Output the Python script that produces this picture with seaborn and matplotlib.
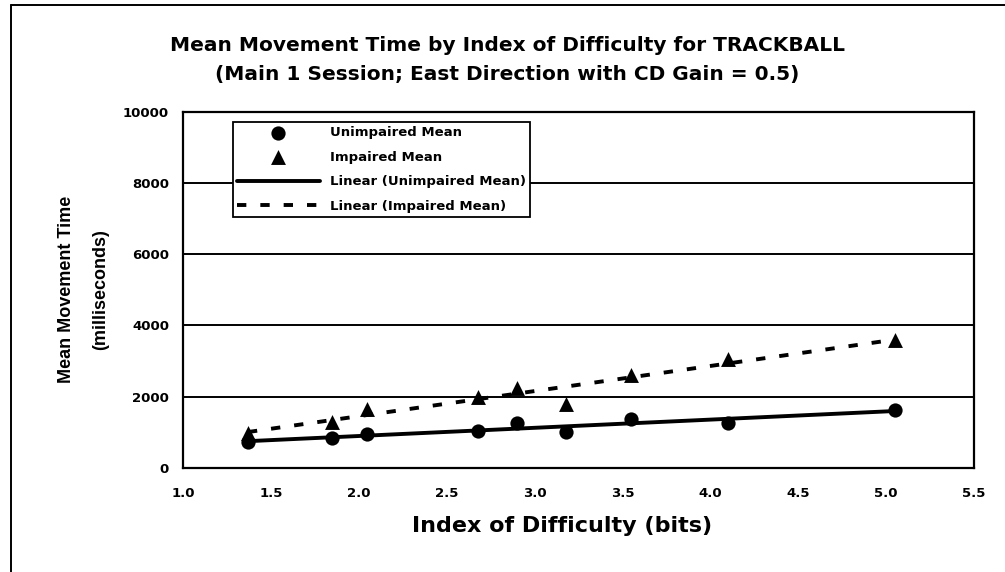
import matplotlib
matplotlib.use("Agg")
import matplotlib.pyplot as plt
from matplotlib.lines import Line2D
import seaborn as sns
import pandas as pd

# Index of difficulty (bits) for each target condition
index_of_difficulty = [1.37, 1.85, 2.05, 2.68, 2.90, 3.18, 3.55, 4.10, 5.05]
# Mean movement times (ms)
unimpaired_mean = [730, 830, 940, 1035, 1250, 1020, 1360, 1270, 1625]
impaired_mean = [975, 1300, 1645, 1985, 2240, 1800, 2610, 3050, 3600]

x_ticks = [1.0, 1.5, 2.0, 2.5, 3.0, 3.5, 4.0, 4.5, 5.0, 5.5]
y_ticks = [0, 2000, 4000, 6000, 8000, 10000]

df = pd.DataFrame({
    "id": index_of_difficulty,
    "unimpaired": unimpaired_mean,
    "impaired": impaired_mean,
})

sns.set_theme(style="white")
plt.rcParams["font.family"] = ["DejaVu Sans"]
plt.rcParams["font.weight"] = "bold"
for key in ["text.color", "axes.labelcolor", "xtick.color", "ytick.color",
            "axes.edgecolor"]:
    plt.rcParams[key] = "black"

NARROW = ["Liberation Sans Narrow", "DejaVu Sans Condensed", "Liberation Sans"]

fig = plt.figure(figsize=(10.05, 5.72), dpi=100)
ax = fig.add_axes([0.182, 0.182, 0.787, 0.623])

# Horizontal gridlines behind the data
for yv in y_ticks[1:]:
    ax.axhline(yv, color="black", lw=1.4, zorder=0)

sns.scatterplot(data=df, x="id", y="unimpaired", ax=ax, marker="o", s=105,
                color="black", edgecolor="black", linewidth=0,
                label="Unimpaired Mean", zorder=3)
sns.scatterplot(data=df, x="id", y="impaired", ax=ax, marker="^", s=115,
                color="black", edgecolor="black", linewidth=0,
                label="Impaired Mean", zorder=3)

# Linear trend lines over the data range
sns.regplot(data=df, x="id", y="unimpaired", ax=ax, scatter=False, ci=None,
            truncate=True, label="Linear (Unimpaired Mean)",
            line_kws=dict(color="black", lw=2.8, zorder=2))
sns.regplot(data=df, x="id", y="impaired", ax=ax, scatter=False, ci=None,
            truncate=True, label="Linear (Impaired Mean)",
            line_kws=dict(color="black", lw=2.8, dashes=(2.4, 3.6), zorder=2))

ax.set_xlim(1.0, 5.5)
ax.set_ylim(0, 10000)
ax.set_xticks(x_ticks)
ax.set_xticklabels([f"{v:.1f}" for v in x_ticks])
ax.set_yticks(y_ticks)
ax.set_yticklabels([str(v) for v in y_ticks])
ax.tick_params(axis="both", direction="out", length=4, width=1.3,
               color="black", labelsize=9.5)
ax.tick_params(axis="x", pad=10)
ax.tick_params(axis="y", pad=6)
for lbl in ax.get_xticklabels() + ax.get_yticklabels():
    lbl.set_fontweight("bold")

for sp in ax.spines.values():
    sp.set_visible(True)
    sp.set_color("black")
    sp.set_linewidth(1.6)

ax.set_xlabel("Index of Difficulty (bits)", fontsize=16, fontweight="bold")
ax.xaxis.set_label_coords(0.480, -0.136)
ax.set_ylabel("Mean Movement Time\n(milliseconds)", fontsize=13,
              fontweight="bold", family=NARROW, linespacing=2.35)
ax.yaxis.set_label_coords(-0.093, 0.5)

fig.text(0.505, 0.911, "Mean Movement Time by Index of Difficulty for TRACKBALL",
         ha="center", va="baseline", fontsize=14.5, fontweight="bold")
fig.text(0.505, 0.860, "(Main 1 Session; East Direction with CD Gain = 0.5)",
         ha="center", va="baseline", fontsize=14.5, fontweight="bold")

handles, labels = ax.get_legend_handles_labels()
order = ["Unimpaired Mean", "Impaired Mean",
         "Linear (Unimpaired Mean)", "Linear (Impaired Mean)"]
hmap = dict(zip(labels, handles))
leg = ax.legend([hmap[k] for k in order], order, loc="upper left",
                bbox_to_anchor=(0.063, 0.97), frameon=True, fancybox=False,
                edgecolor="black", framealpha=1,
                prop=dict(weight="bold", size=9.5),
                handlelength=6.3, handletextpad=0.8, labelspacing=0.88,
                borderpad=0.3, borderaxespad=0)
leg.get_frame().set_linewidth(1.3)

# Outer frame lines of the chart area
fig.add_artist(Line2D([11 / 1005, 11 / 1005], [0, 1 - 5 / 572],
                      transform=fig.transFigure, color="black", lw=1.4))
fig.add_artist(Line2D([11 / 1005, 1], [1 - 5 / 572, 1 - 5 / 572],
                      transform=fig.transFigure, color="black", lw=1.4))

fig.savefig("out.png", dpi=100)
